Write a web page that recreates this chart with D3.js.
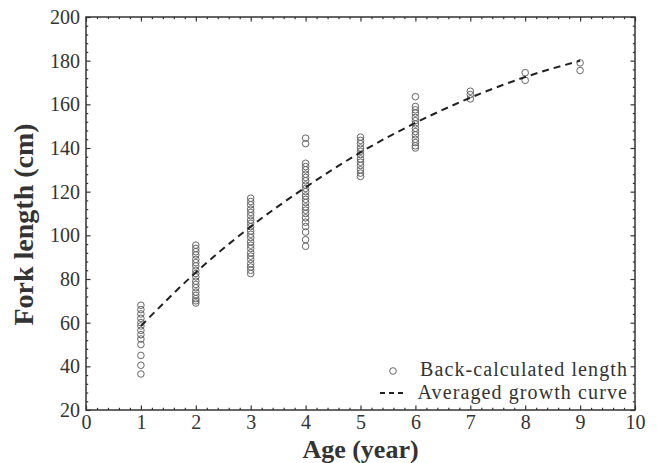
<!DOCTYPE html>
<html>
<head>
<meta charset="utf-8">
<script src="https://cdn.jsdelivr.net/npm/d3@7"></script>
<style>
	body { margin: 0; background: #fff; }
	svg text { font-family: "Liberation Serif", "Times New Roman", serif; fill: #333; }
</style>
</head>
<body>
<div id="chart"></div>
<script>
// data
// ----------------------------------------

var age1 = [68, 66, 64, 62, 60, 58.5, 56.5, 54.5, 52.5, 50, 45, 40.5, 36.5];
var age2 = [95.5, 94, 92.5, 91, 89, 87.5, 86, 84, 82.5, 81, 79, 77.5, 76, 74, 72.5, 71, 70, 69];
var age3 = [117, 115.5, 114, 112, 110.5, 109, 107, 105.5, 104, 102, 100.5, 99, 97, 95.5, 94, 92, 90.5, 89, 87, 85.5, 84, 82.5];
var age4 = [144.5, 142, 133, 131.5, 130, 128, 126.5, 125, 123, 121.5, 120, 118, 116.5, 115, 113, 111.5, 110, 108, 106, 104, 101.5, 98, 95];
var age5 = [145, 143.5, 142, 140, 138.5, 137, 135, 133.5, 132, 130, 128.5, 127];
var age6 = [163.5, 159, 157.5, 156, 154, 152.5, 151, 149, 147.5, 146, 144, 142.5, 141, 140];
var age7 = [166, 164.5, 162.5];
var age8 = [174.5, 171];
var age9 = [179, 175.5];

var curveAges = [1, 2, 3, 4, 5, 6, 7, 8, 9];
var curveLengths = [58.5, 83, 104, 122, 138, 151.5, 163, 172.5, 180];

var xTicks = [0, 1, 2, 3, 4, 5, 6, 7, 8, 9, 10];
var yTicks = [20, 40, 60, 80, 100, 120, 140, 160, 180, 200];

var legendLabels = ["Back-calculated length", "Averaged growth curve"];

// main variables
// ----------------------------------------

var width = 657, height = 463;
var margin = {top: 17, right: 22, bottom: 53, left: 86},
	nomargin_w = width - (margin.left + margin.right),
	nomargin_h = height - (margin.top + margin.bottom);

dataviz();

function dataviz(){
	var svg = d3.select("#chart")
		.append("svg")
		.attr("width", width)
		.attr("height", height);

	var plot = svg.append("g")
		.attr("transform", "translate(" + margin.left + "," + margin.top + ")");

	var x = d3.scaleLinear().domain([0, 10]).range([0, nomargin_w]);
	var y = d3.scaleLinear().domain([20, 200]).range([nomargin_h, 0]);

	var xMinor = d3.range(0, 50).map(function(i){ return i / 5; }).filter(function(d){ return d % 1 !== 0; });
	var yMinor = d3.range(20, 200, 4).filter(function(d){ return d % 20 !== 0; });

	// frame
	plot.append("rect")
		.attr("width", nomargin_w)
		.attr("height", nomargin_h)
		.attr("fill", "none")
		.attr("stroke", "#333")
		.attr("stroke-width", 1.5);

	function styleAxis(g){
		g.select(".domain").remove();
		g.selectAll(".tick line").attr("stroke", "#333").attr("stroke-width", 1.2);
		g.selectAll(".tick text")
			.attr("fill", "#333")
			.style("font-family", "'Liberation Serif', serif")
			.style("font-size", "20px");
	}

	// major ticks, inward
	plot.append("g")
		.attr("transform", "translate(0," + nomargin_h + ")")
		.call(d3.axisBottom(x).tickValues(xTicks).tickSize(-4.5).tickPadding(5).tickFormat(d3.format("d")))
		.call(styleAxis);
	plot.append("g")
		.call(d3.axisTop(x).tickValues(xTicks).tickSize(-4.5).tickFormat(""))
		.call(styleAxis);
	plot.append("g")
		.call(d3.axisLeft(y).tickValues(yTicks).tickSize(-4.5).tickPadding(6).tickFormat(d3.format("d")))
		.call(styleAxis);
	plot.append("g")
		.attr("transform", "translate(" + nomargin_w + ",0)")
		.call(d3.axisRight(y).tickValues(yTicks).tickSize(-4.5).tickFormat(""))
		.call(styleAxis);

	// minor ticks
	plot.append("g")
		.attr("transform", "translate(0," + nomargin_h + ")")
		.call(d3.axisBottom(x).tickValues(xMinor).tickSize(-2.2).tickFormat(""))
		.call(styleAxis);
	plot.append("g")
		.call(d3.axisTop(x).tickValues(xMinor).tickSize(-2.2).tickFormat(""))
		.call(styleAxis);
	plot.append("g")
		.call(d3.axisLeft(y).tickValues(yMinor).tickSize(-2.2).tickFormat(""))
		.call(styleAxis);
	plot.append("g")
		.attr("transform", "translate(" + nomargin_w + ",0)")
		.call(d3.axisRight(y).tickValues(yMinor).tickSize(-2.2).tickFormat(""))
		.call(styleAxis);

	// points
	var groups = [age1, age2, age3, age4, age5, age6, age7, age8, age9];
	var points = [];
	groups.forEach(function(vals, i){
		vals.forEach(function(v){ points.push({age: i + 1, len: v}); });
	});

	plot.append("g")
		.selectAll("circle")
		.data(points)
		.enter()
		.append("circle")
		.attr("cx", function(d){ return x(d.age); })
		.attr("cy", function(d){ return y(d.len); })
		.attr("r", 3.3)
		.attr("fill", "none")
		.attr("stroke", "#666")
		.attr("stroke-width", 1);

	// growth curve
	var line = d3.line()
		.curve(d3.curveMonotoneX)
		.x(function(d, i){ return x(curveAges[i]); })
		.y(function(d){ return y(d); });

	plot.append("path")
		.datum(curveLengths)
		.attr("d", line)
		.attr("fill", "none")
		.attr("stroke", "#222")
		.attr("stroke-width", 2)
		.attr("stroke-dasharray", "7,5");

	// axis titles
	svg.append("text")
		.attr("x", margin.left + x(5))
		.attr("y", 458)
		.attr("text-anchor", "middle")
		.style("font-size", "26px")
		.style("font-weight", "bold")
		.attr("fill", "#222")
		.text("Age (year)");

	svg.append("text")
		.attr("transform", "translate(33," + (margin.top + y(105)) + ") rotate(-90)")
		.attr("text-anchor", "middle")
		.style("font-size", "28px")
		.style("font-weight", "bold")
		.attr("fill", "#222")
		.text("Fork length (cm)");

	// legend
	var legend = svg.append("g");
	legend.append("circle")
		.attr("cx", 393)
		.attr("cy", 371)
		.attr("r", 3.3)
		.attr("fill", "none")
		.attr("stroke", "#666");
	legend.append("line")
		.attr("x1", 380).attr("x2", 406)
		.attr("y1", 393).attr("y2", 393)
		.attr("stroke", "#222")
		.attr("stroke-width", 2)
		.attr("stroke-dasharray", "5,4");
	legend.selectAll("text.lab")
		.data(legendLabels)
		.enter()
		.append("text")
		.attr("class", "lab")
		.attr("x", 628)
		.attr("y", function(d, i){ return 376 + i * 23; })
		.attr("text-anchor", "end")
		.style("font-size", "20px")
		.style("letter-spacing", "1.1px")
		.text(function(d){ return d; });
}
</script>
</body>
</html>
